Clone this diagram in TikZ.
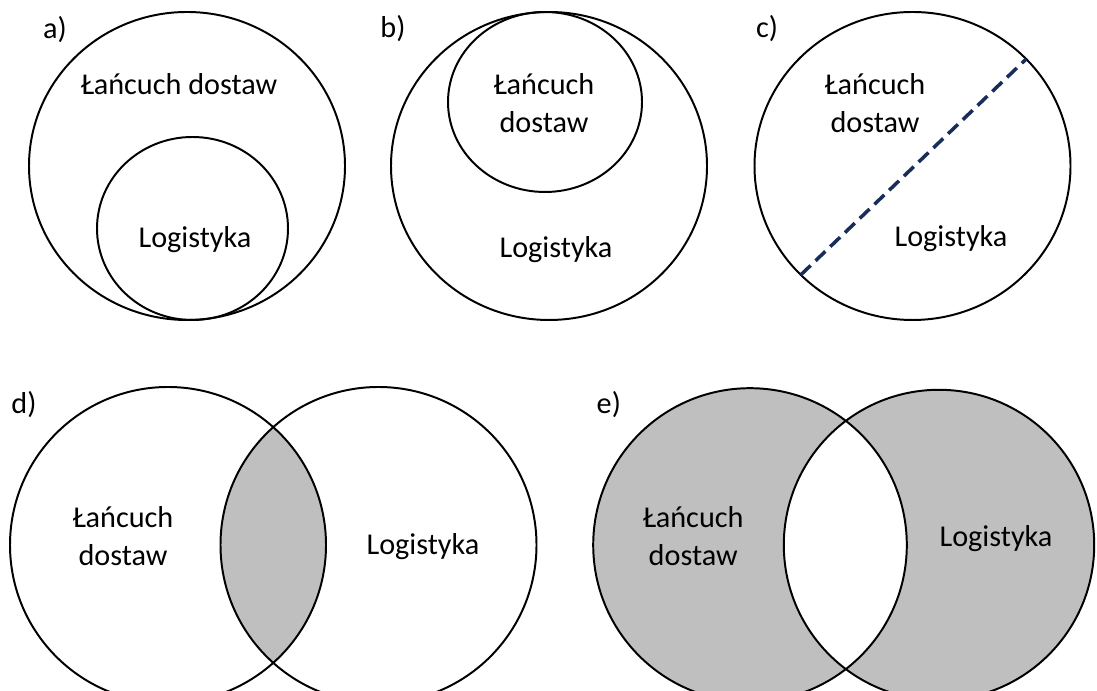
\documentclass[tikz,border=0pt]{standalone}
\usepackage{fontspec}
\setmainfont{Carlito}

\definecolor{lens}{RGB}{191,191,191}
\definecolor{navy}{RGB}{25,45,90}

\tikzset{
    ring/.style={draw=black,line width=1.4pt},
    txt/.style={font=\fontsize{21.5}{27}\selectfont,align=center,inner sep=0pt},
    cut/.style={draw=navy,line width=2.5pt,dash pattern=on 0.34cm off 0.17cm},
}

\begin{document}
\begin{tikzpicture}
            \useasboundingbox (0,0) rectangle (27.425,17.275);
            %\draw[very thin,color=gray] (0,0) grid (27,17);

            % a) logistyka inside the supply chain
            \coordinate (a) at (4.675,13.125);
            \coordinate (al) at (4.8125,11.5625);
            \draw[ring] (a) ellipse (3.95 and 3.85);
            \draw[ring] (al) ellipse (2.3875 and 2.2875);
            \node[txt] (atag) at (1.375,16.525) {a)};
            \node[txt] (asc) at (4.475,15.175) {Łańcuch dostaw};
            \node[txt] (alog) at (4.875,11.29) {Logistyka};

            % b) the other way round
            \coordinate (b) at (13.725,13.125);
            \coordinate (bs) at (13.625,14.725);
            \draw[ring] (b) ellipse (3.95 and 3.85);
            \draw[ring] (bs) ellipse (2.425 and 2.25);
            \node[txt] (btag) at (9.825,16.55) {b)};
            \node[txt] (bsc) at (13.6,14.7) {Łańcuch\\dostaw};
            \node[txt] (blog) at (13.9,11.04) {Logistyka};

            % c) one circle split by a dashed line
            \coordinate (c) at (22.8125,13.125);
            \draw[ring] (c) ellipse (3.95 and 3.85);
            \path (c) ++(225:3.95 and 3.85) coordinate (cA);
            \path (c) ++(44:3.95 and 3.85) coordinate (cB);
            \draw[cut] (cA) -- (cB);
            \node[txt] (ctag) at (19.175,16.55) {c)};
            \node[txt] (csc) at (21.875,14.7) {Łańcuch\\dostaw};
            \node[txt] (clog) at (23.775,11.3125) {Logistyka};

            % d) common part shaded
            \coordinate (d1) at (4.2,3.65);
            \coordinate (d2) at (9.4625,3.65);
            \begin{scope}
                \clip (d1) circle (3.95);
                \fill[lens] (d2) circle (3.95);
            \end{scope}
            \draw[ring] (d1) circle (3.95);
            \draw[ring] (d2) circle (3.95);
            \node[txt] (dtag) at (0.6,7.15) {d)};
            \node[txt] (dsc) at (3.075,3.86) {Łańcuch\\dostaw};
            \node[txt] (dlog) at (10.575,3.6) {Logistyka};

            % e) everything but the common part shaded
            \coordinate (e1) at (18.75,3.65);
            \coordinate (e2) at (23.475,3.65);
            \fill[lens,even odd rule] (e1) circle (3.92) (e2) circle (3.88);
            \draw[ring] (e1) circle (3.92);
            \draw[ring] (e2) circle (3.88);
            \node[txt] (etag) at (15.22,7.15) {e)};
            \node[txt] (esc) at (17.33,3.88) {Łańcuch\\dostaw};
            \node[txt] (elog) at (24.9,3.8) {Logistyka};

\end{tikzpicture}
\end{document}
